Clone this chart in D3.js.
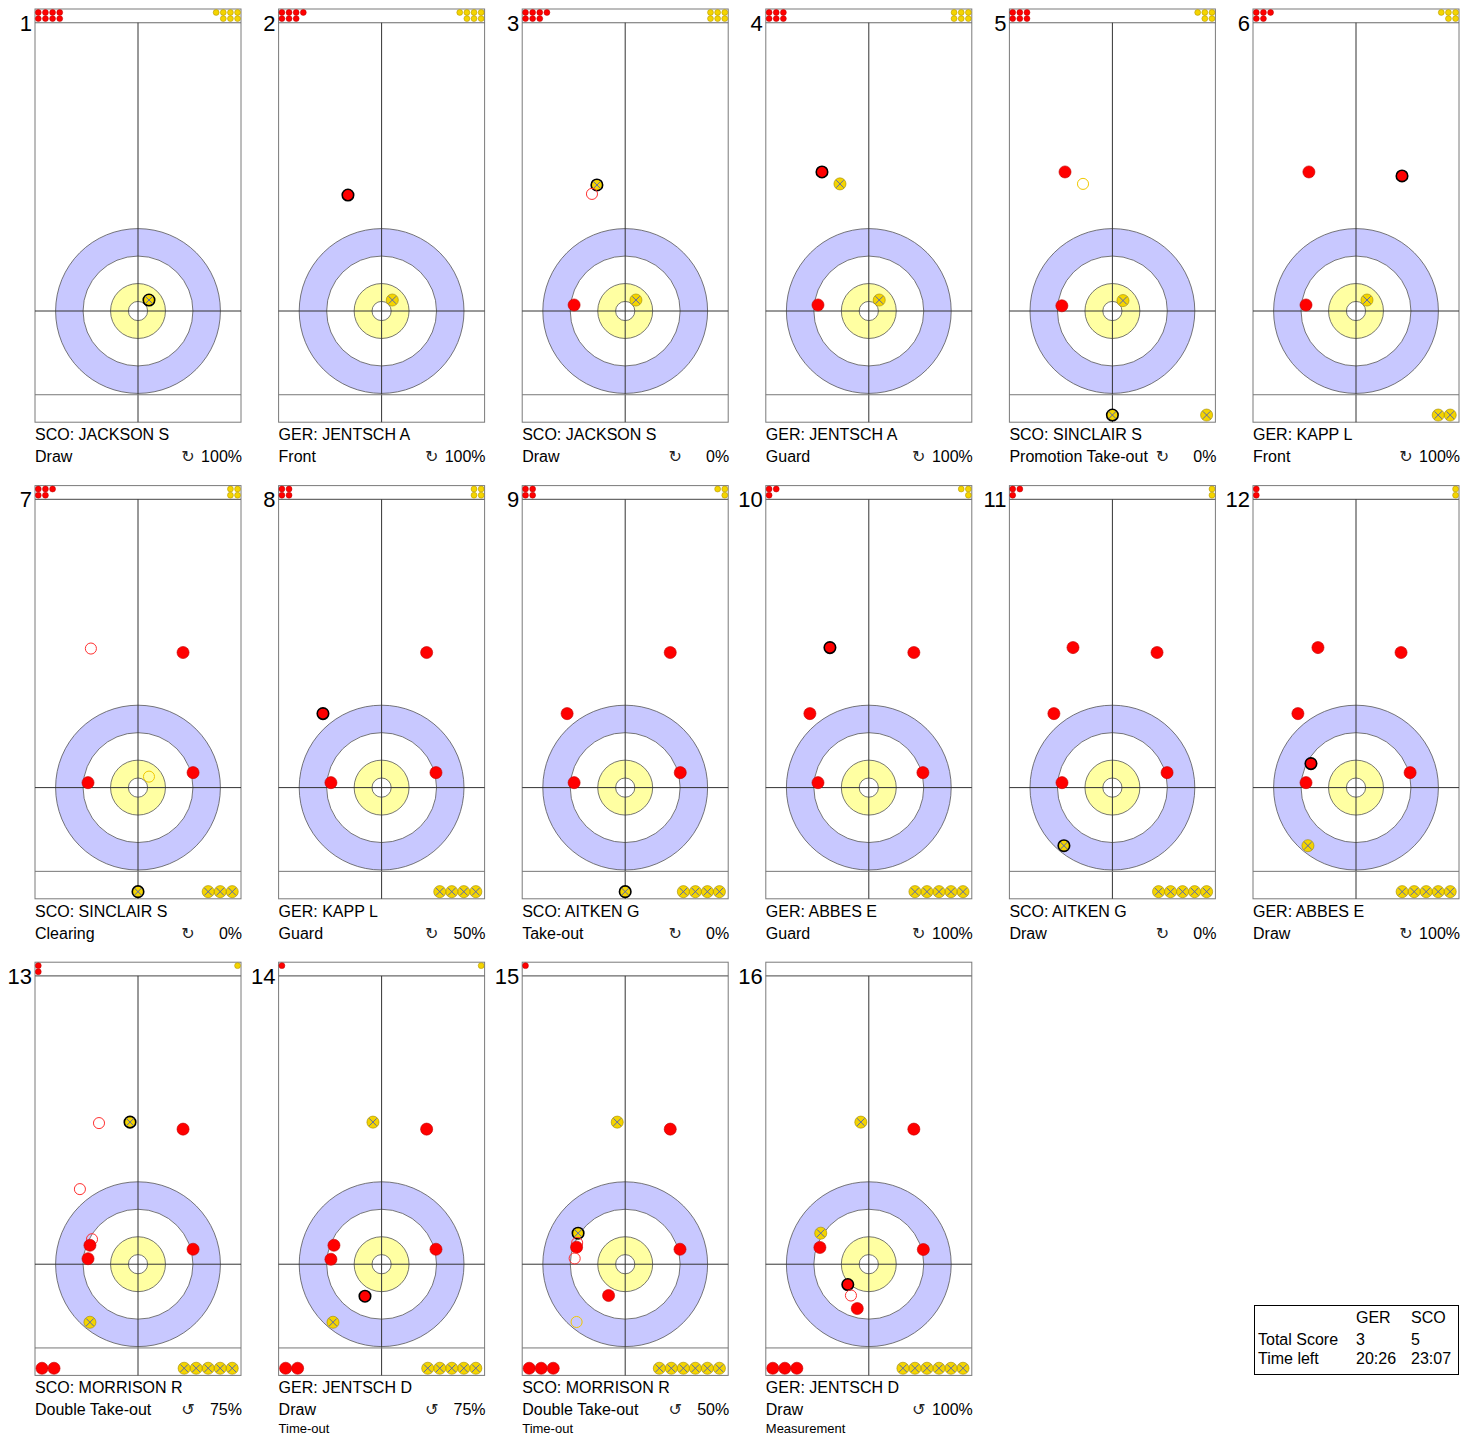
<!DOCTYPE html>
<html>
<head>
<meta charset="utf-8">
<script src="https://cdn.jsdelivr.net/npm/d3@7"></script>
<style>
  body { margin: 0; background: #fff; }
  text { font-family: "Liberation Sans", Arial, sans-serif; fill: #000; }
</style>
</head>
<body>
<svg id="chart" width="1471" height="1439"></svg>
<script>
// -- shot info, one entry per end position (16 shots) -- //
const shotNumbers = d3.range(1, 17);
const players = ["SCO: JACKSON S", "GER: JENTSCH A", "SCO: JACKSON S", "GER: JENTSCH A",
  "SCO: SINCLAIR S", "GER: KAPP L", "SCO: SINCLAIR S", "GER: KAPP L",
  "SCO: AITKEN G", "GER: ABBES E", "SCO: AITKEN G", "GER: ABBES E",
  "SCO: MORRISON R", "GER: JENTSCH D", "SCO: MORRISON R", "GER: JENTSCH D"];
const shotTypes = ["Draw", "Front", "Draw", "Guard", "Promotion Take-out", "Front", "Clearing", "Guard",
  "Take-out", "Guard", "Draw", "Draw", "Double Take-out", "Draw", "Double Take-out", "Draw"];
const rotations = ["cw", "cw", "cw", "cw", "cw", "cw", "cw", "cw",
  "cw", "cw", "cw", "cw", "ccw", "ccw", "ccw", "ccw"];
const percents = [100, 100, 0, 100, 0, 100, 0, 50, 0, 100, 0, 100, 75, 75, 50, 100];
const notes = ["", "", "", "", "", "", "", "", "", "", "", "", "", "Time-out", "Time-out", "Measurement"];

// stones still to be played (top strip) and stones out of play (bottom strip)
const redLeft    = [8, 7, 7, 6, 6, 5, 5, 4, 4, 3, 3, 2, 2, 1, 1, 0];
const yellowLeft = [7, 7, 6, 6, 5, 5, 4, 4, 3, 3, 2, 2, 1, 1, 0, 0];
const redOut     = [0, 0, 0, 0, 0, 0, 0, 0, 0, 0, 0, 0, 2, 2, 3, 3];
const yellowOut  = [0, 0, 0, 0, 1, 2, 3, 4, 4, 5, 5, 5, 5, 5, 6, 6];

// stones: [shot, team, x (ft from centre line), y (ft from tee, + toward hog), state]
// state: "t" = thrown stone, "h" = previous position, "" = at rest
const stones = [
  [1, "Y", 0.80, 0.80, "t"],
  [2, "R", -2.45, 8.45, "t"], [2, "Y", 0.78, 0.80, ""],
  [3, "Y", -2.06, 9.18, "t"], [3, "R", -2.42, 8.53, "h"], [3, "R", -3.72, 0.44, ""], [3, "Y", 0.78, 0.80, ""],
  [4, "R", -3.41, 10.13, "t"], [4, "Y", -2.10, 9.26, ""], [4, "R", -3.70, 0.44, ""], [4, "Y", 0.76, 0.80, ""],
  [5, "R", -3.45, 10.13, ""], [5, "Y", -2.14, 9.26, "h"], [5, "R", -3.68, 0.38, ""], [5, "Y", 0.77, 0.76, ""],
  [5, "Y", 0.00, -7.58, "t"],
  [6, "R", -3.43, 10.13, ""], [6, "R", 3.35, 9.84, "t"], [6, "R", -3.64, 0.44, ""], [6, "Y", 0.80, 0.80, ""],
  [7, "R", -3.43, 10.13, "h"], [7, "R", 3.28, 9.84, ""], [7, "R", -3.64, 0.36, ""], [7, "R", 4.01, 1.09, ""],
  [7, "Y", 0.80, 0.80, "h"], [7, "Y", 0.00, -7.58, "t"],
  [8, "R", 3.28, 9.84, ""], [8, "R", -4.27, 5.39, "t"], [8, "R", -3.69, 0.36, ""], [8, "R", 3.96, 1.09, ""],
  [9, "R", 3.28, 9.84, ""], [9, "R", -4.23, 5.39, ""], [9, "R", -3.72, 0.36, ""], [9, "R", 4.01, 1.09, ""],
  [9, "Y", 0.00, -7.58, "t"],
  [10, "R", -2.83, 10.20, "t"], [10, "R", 3.28, 9.84, ""], [10, "R", -4.29, 5.39, ""], [10, "R", -3.70, 0.36, ""],
  [10, "R", 3.94, 1.09, ""],
  [11, "R", -2.87, 10.20, ""], [11, "R", 3.25, 9.84, ""], [11, "R", -4.26, 5.39, ""], [11, "R", -3.67, 0.36, ""],
  [11, "R", 3.98, 1.09, ""], [11, "Y", -3.53, -4.23, "t"],
  [12, "R", -2.77, 10.20, ""], [12, "R", 3.28, 9.84, ""], [12, "R", -4.23, 5.39, ""], [12, "R", -3.28, 1.75, "t"],
  [12, "R", -3.64, 0.36, ""], [12, "R", 3.94, 1.09, ""], [12, "Y", -3.50, -4.23, ""],
  [13, "R", -2.84, 10.28, "h"], [13, "Y", -0.58, 10.35, "t"], [13, "R", 3.28, 9.84, ""], [13, "R", -4.23, 5.47, "h"],
  [13, "R", -3.35, 1.82, "h"], [13, "R", -3.50, 1.38, ""], [13, "R", -3.64, 0.40, ""], [13, "R", 4.01, 1.09, ""],
  [13, "Y", -3.50, -4.23, ""],
  [14, "Y", -0.63, 10.35, ""], [14, "R", 3.28, 9.84, ""], [14, "R", -3.47, 1.38, ""], [14, "R", -3.69, 0.36, ""],
  [14, "R", 3.96, 1.09, ""], [14, "R", -1.21, -2.33, "t"], [14, "Y", -3.54, -4.23, ""],
  [15, "Y", -0.58, 10.35, ""], [15, "R", 3.28, 9.84, ""], [15, "Y", -3.43, 2.26, "t"], [15, "R", -3.50, 1.55, "h"],
  [15, "R", -3.54, 1.24, ""], [15, "R", -3.68, 0.42, "h"], [15, "R", 3.99, 1.09, ""], [15, "R", -1.21, -2.28, ""],
  [15, "Y", -3.54, -4.21, "h"],
  [16, "Y", -0.58, 10.35, ""], [16, "R", 3.28, 9.84, ""], [16, "Y", -3.50, 2.26, ""], [16, "R", -3.56, 1.22, ""],
  [16, "R", 3.97, 1.07, ""], [16, "R", -1.53, -1.48, "t"], [16, "R", -1.30, -2.28, "h"], [16, "R", -0.84, -3.23, ""]
];

// -- score box -- //
const teams = ["GER", "SCO"];
const totalScore = [3, 5];
const timeLeft = ["20:26", "23:07"];

// -- sheet geometry in feet -- //
const halfWidth = 7.5, hogLine = 21, stripTop = 22, sheetBottom = -8.1, backLine = -6.1;
const rings = [
  { r: 6, fill: "#c8c8ff" },
  { r: 4, fill: "#ffffff" },
  { r: 2, fill: "#ffffa2" },
  { r: 0.7, fill: "#ffffff" }
];
const stoneR = 0.44, dotR = 0.215;

const svg = d3.select("#chart");

const colPitch = 243.6, rowPitch = 476.6, left0 = 35, top0 = 9, sheetW = 206, sheetH = 413.2;

shotNumbers.forEach((shot, i) => {
  let c = i % 6, r = Math.floor(i / 6);
  let left = left0 + c * colPitch, top = top0 + r * rowPitch;
  let x = d3.scaleLinear().domain([-halfWidth, halfWidth]).range([left, left + sheetW]);
  let y = d3.scaleLinear().domain([stripTop, sheetBottom]).range([top, top + sheetH]);
  let g = svg.append("g").attr("class", "panel");

  // -- sheet outline -- //
  g.append("rect")
    .attr("x", x(-halfWidth)).attr("y", y(stripTop))
    .attr("width", x(halfWidth) - x(-halfWidth)).attr("height", y(sheetBottom) - y(stripTop))
    .style("fill", "#fff").style("stroke", "#7a7a7a").style("stroke-width", 1);

  // -- house -- //
  g.selectAll(".ring").data(rings).enter().append("circle")
    .attr("class", "ring")
    .attr("cx", x(0)).attr("cy", y(0))
    .attr("r", d => x(d.r) - x(0))
    .style("fill", d => d.fill).style("stroke", "#555").style("stroke-width", 0.8);

  // -- lines -- //
  g.append("line").attr("x1", x(-halfWidth)).attr("x2", x(halfWidth))
    .attr("y1", y(hogLine)).attr("y2", y(hogLine))
    .style("stroke", "#6a6a6a").style("stroke-width", 1.2);
  g.append("line").attr("x1", x(0)).attr("x2", x(0))
    .attr("y1", y(hogLine)).attr("y2", y(sheetBottom))
    .style("stroke", "#333").style("stroke-width", 1);
  g.append("line").attr("x1", x(-halfWidth)).attr("x2", x(halfWidth))
    .attr("y1", y(0)).attr("y2", y(0))
    .style("stroke", "#333").style("stroke-width", 1);
  g.append("line").attr("x1", x(-halfWidth)).attr("x2", x(halfWidth))
    .attr("y1", y(backLine)).attr("y2", y(backLine))
    .style("stroke", "#777").style("stroke-width", 1);

  // -- stones still to play, top strip -- //
  let dots = [];
  for (let k = 0; k < redLeft[i]; k++)
    dots.push({ team: "R", x: -halfWidth + 0.24 + Math.floor(k / 2) * 0.52, y: k % 2 ? 21.30 : 21.75 });
  for (let k = 0; k < yellowLeft[i]; k++)
    dots.push({ team: "Y", x: halfWidth - 0.25 - Math.floor(k / 2) * 0.52, y: k % 2 ? 21.30 : 21.75 });
  g.selectAll(".dot").data(dots).enter().append("circle")
    .attr("class", "dot")
    .attr("cx", d => x(d.x)).attr("cy", d => y(d.y))
    .attr("r", x(dotR) - x(0))
    .style("fill", d => d.team === "R" ? "#ff0000" : "#f4d400")
    .style("stroke", d => d.team === "R" ? "#b00000" : "#a88c00")
    .style("stroke-width", 0.5);

  // -- stones out of play, bottom strip -- //
  let outs = [];
  for (let k = 0; k < redOut[i]; k++) outs.push([shot, "R", -halfWidth + 0.51 + k * 0.875, -7.58, ""]);
  for (let k = 0; k < yellowOut[i]; k++) outs.push([shot, "Y", halfWidth - 0.64 - k * 0.875, -7.58, ""]);

  let here = stones.filter(s => s[0] === shot).concat(outs);
  let sr = x(stoneR) - x(0);
  here.forEach(s => {
    let [, team, sx, sy, state] = s;
    let cx = x(sx), cy = y(sy);
    let col = team === "R" ? "#ff0000" : "#f4d400";
    if (state === "h") {
      g.append("circle").attr("cx", cx).attr("cy", cy).attr("r", sr - 0.5)
        .style("fill", "none").style("stroke", team === "R" ? "#ff3030" : "#f0c800").style("stroke-width", 1);
      return;
    }
    g.append("circle").attr("cx", cx).attr("cy", cy).attr("r", state === "t" ? sr - 0.3 : sr)
      .style("fill", col)
      .style("stroke", state === "t" ? "#000" : (team === "R" ? "#c00000" : "#a08800"))
      .style("stroke-width", state === "t" ? 1.6 : 0.6);
    if (team === "Y") {
      let d = sr * 0.62;
      g.append("path")
        .attr("d", `M${cx - d},${cy - d}L${cx + d},${cy + d}M${cx - d},${cy + d}L${cx + d},${cy - d}`)
        .style("stroke", "#4a5cc0").style("stroke-width", 0.9);
    }
  });

  // -- labels -- //
  g.append("text").attr("x", left - 3).attr("y", top + 21.5)
    .attr("text-anchor", "end").style("font-size", "22px").text(shot);
  g.append("text").attr("x", left).attr("y", top + 431)
    .style("font-size", "16px").text(players[i]);
  g.append("text").attr("x", left).attr("y", top + 453)
    .style("font-size", "16px").text(shotTypes[i]);
  g.append("text").attr("x", left + 153).attr("y", top + 453)
    .attr("text-anchor", "middle").style("font-size", "16px")
    .style("font-family", "DejaVu Sans").style("fill", "#222")
    .text(rotations[i] === "cw" ? "\u21BB" : "\u21BA");
  g.append("text").attr("x", left + 207).attr("y", top + 453)
    .attr("text-anchor", "end").style("font-size", "16px").text(percents[i] + "%");
  if (notes[i])
    g.append("text").attr("x", left).attr("y", top + 471)
      .style("font-size", "13px").text(notes[i]);
});

// -- score box -- //
let box = svg.append("g").attr("transform", "translate(1254.5,1305.5)");
box.append("rect").attr("width", 204).attr("height", 69)
  .style("fill", "#fff").style("stroke", "#000").style("stroke-width", 1);
let colX = d3.scalePoint().domain(teams).range([101.5, 156.5]);
teams.forEach((t, k) => {
  box.append("text").attr("x", colX(t)).attr("y", 17.5).style("font-size", "16px").text(t);
  box.append("text").attr("x", colX(t)).attr("y", 39.5).style("font-size", "16px").text(totalScore[k]);
  box.append("text").attr("x", colX(t)).attr("y", 58.5).style("font-size", "16px").text(timeLeft[k]);
});
box.append("text").attr("x", 3.5).attr("y", 39.5).style("font-size", "16px").text("Total Score");
box.append("text").attr("x", 3.5).attr("y", 58.5).style("font-size", "16px").text("Time left");
</script>
</body>
</html>
